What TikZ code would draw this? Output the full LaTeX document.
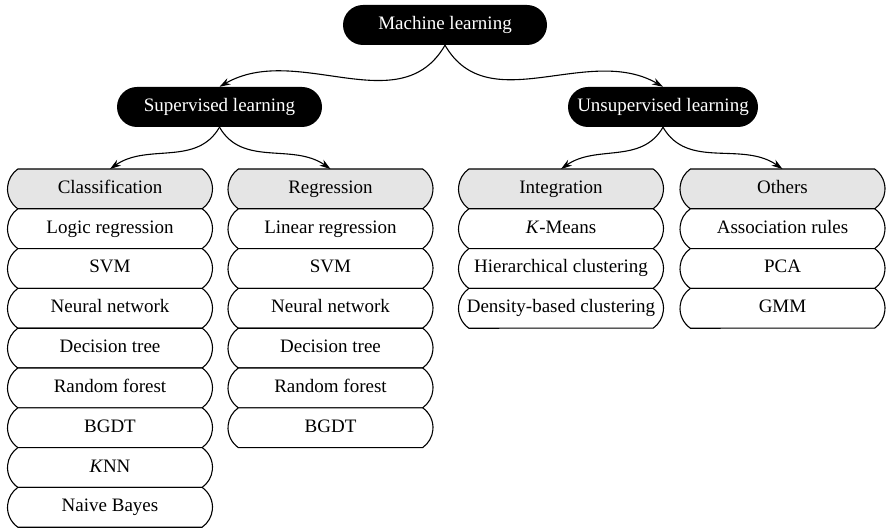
\documentclass[tikz,border=0pt]{standalone}
\usepackage{fontspec}
\setmainfont{Liberation Serif}
\usetikzlibrary{positioning, arrows.meta, shapes.misc}

\begin{document}
\begin{tikzpicture}[x=1pt, y=1pt,
  head/.style={rounded rectangle, fill=black, text=white, minimum height=40pt,
               inner xsep=0pt, text height=13pt, text depth=4pt,
               font=\fontsize{19}{22}\selectfont},
  item/.style={rounded rectangle, rounded rectangle arc length=110, draw=black,
               line width=1.1pt, fill=white, minimum width=205pt, minimum height=39.8pt,
               inner xsep=0pt, outer sep=0pt, text height=13pt, text depth=4pt,
               font=\fontsize{19}{22}\selectfont},
  cat/.style={item, fill=gray!20},
  arr/.style={-{Stealth[length=11pt, width=7pt]}, line width=1.1pt}
]
  \useasboundingbox (0,0) rectangle (886,-529);

  \node[head, minimum width=204pt] (ml)    at (445,-25)   {Machine learning};
  \node[head, minimum width=205pt] (sup)   at (219.5,-107) {Supervised learning};
  \node[head, minimum width=190pt] (unsup) at (663,-107)   {Unsupervised learning};

  % supervised: classification
  \node[cat] (clf) at (110,-188.9) {Classification};
  \node[item, below=0pt of clf]  (clf1) {Logic regression};
  \node[item, below=0pt of clf1] (clf2) {SVM};
  \node[item, below=0pt of clf2] (clf3) {Neural network};
  \node[item, below=0pt of clf3] (clf4) {Decision tree};
  \node[item, below=0pt of clf4] (clf5) {Random forest};
  \node[item, below=0pt of clf5] (clf6) {BGDT};
  \node[item, below=0pt of clf6] (clf7) {\textit{K}NN};
  \node[item, below=0pt of clf7] (clf8) {Naive Bayes};

  % supervised: regression
  \node[cat] (reg) at (330.5,-188.9) {Regression};
  \node[item, below=0pt of reg]  (reg1) {Linear regression};
  \node[item, below=0pt of reg1] (reg2) {SVM};
  \node[item, below=0pt of reg2] (reg3) {Neural network};
  \node[item, below=0pt of reg3] (reg4) {Decision tree};
  \node[item, below=0pt of reg4] (reg5) {Random forest};
  \node[item, below=0pt of reg5] (reg6) {BGDT};

  % unsupervised
  \node[cat] (clu) at (561,-188.9) {Integration};
  \node[item, below=0pt of clu]  (clu1) {\textit{K}-Means};
  \node[item, below=0pt of clu1] (clu2) {Hierarchical clustering};
  \node[item, below=0pt of clu2] (clu3) {Density-based clustering};

  \node[cat] (oth) at (782.5,-188.9) {Others};
  \node[item, below=0pt of oth]  (oth1) {Association rules};
  \node[item, below=0pt of oth1] (oth2) {PCA};
  \node[item, below=0pt of oth2] (oth3) {GMM};

  \draw[arr] (ml.south)    to[out=-120, in=30]  (sup.north);
  \draw[arr] (ml.south)    to[out=-60,  in=150] (unsup.north);
  \draw[arr] (sup.south)   to[out=-120, in=35]  (clf.north);
  \draw[arr] (sup.south)   to[out=-60,  in=145] (reg.north);
  \draw[arr] (unsup.south) to[out=-120, in=35]  (clu.north);
  \draw[arr] (unsup.south) to[out=-60,  in=145] (oth.north);
\end{tikzpicture}
\end{document}
